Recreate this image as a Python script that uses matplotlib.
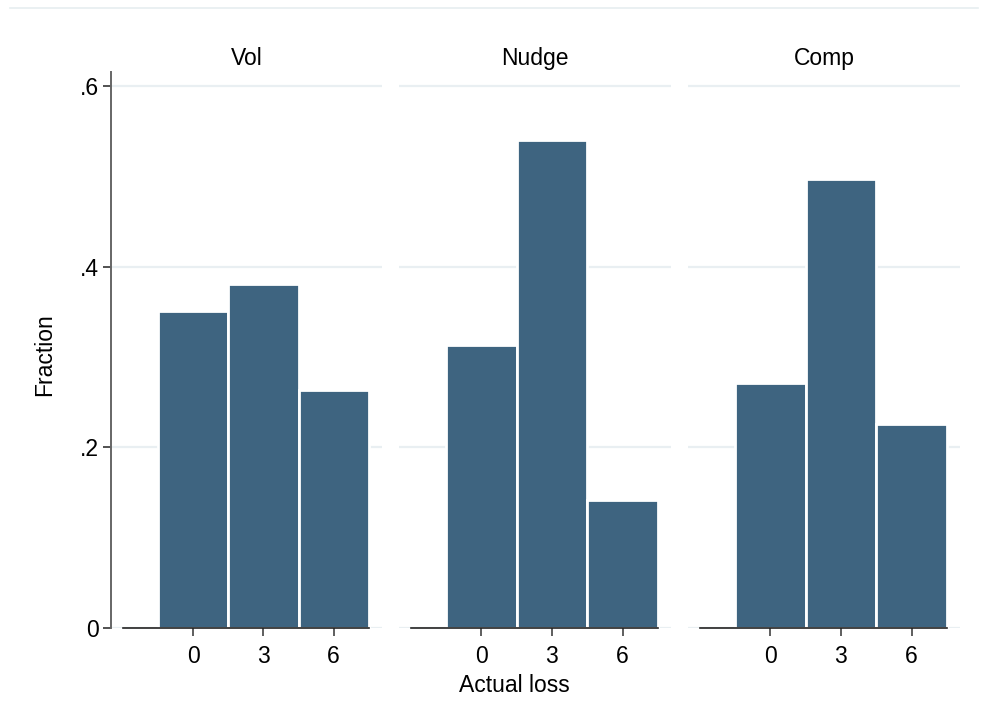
import matplotlib
matplotlib.use('Agg')
import matplotlib.pyplot as plt
from matplotlib.lines import Line2D

plt.rcParams['font.family'] = ['Liberation Sans', 'DejaVu Sans']

# Histogram of actual loss by treatment group (fraction per bin)
groups = ["Vol", "Nudge", "Comp"]
bins = [0, 3, 6]
vol = [0.351, 0.381, 0.264]
nudge = [0.313, 0.541, 0.142]
comp = [0.271, 0.498, 0.226]
fractions = [vol, nudge, comp]
yticks = [0, 0.2, 0.4, 0.6]
ytick_labels = ["0", ".2", ".4", ".6"]

bar_color = "#3e6480"
grid_color = "#e9eff2"
fs = 16.5
W, H = 981, 720

fig = plt.figure(figsize=(W / 100, H / 100), dpi=100)

# panel extents in pixels (left, right)
panels = [(111, 382), (399, 671), (688, 960)]
top_px, bot_px = 72, 628

for i, (name, vals) in enumerate(zip(groups, fractions)):
    l, r = panels[i]
    ax = fig.add_axes([l / W, 1 - bot_px / H, (r - l) / W, (bot_px - top_px) / H])
    ax.set_xlim(-3.5, 8.06)
    ax.set_ylim(0, 0.616)
    ax.set_yticks(yticks)
    for y in yticks:
        ax.axhline(y, color=grid_color, lw=1.6, zorder=0)
    ax.bar(bins, vals, width=3, color=bar_color, edgecolor="white",
           linewidth=2.0, zorder=2)
    for s in ["top", "right"]:
        ax.spines[s].set_visible(False)
    ax.spines["bottom"].set_bounds(-3, 7.5)
    ax.spines["bottom"].set_color("#222222")
    ax.spines["bottom"].set_linewidth(1.2)
    ax.set_xticks(bins)
    ax.set_xticklabels([str(b) for b in bins], fontsize=fs)
    ax.tick_params(axis="x", length=6, width=1.1, color="#333333", pad=6)
    if i == 0:
        ax.spines["left"].set_color("#666666")
        ax.spines["left"].set_linewidth(1.4)
        ax.set_yticklabels(ytick_labels, fontsize=fs)
        ax.tick_params(axis="y", length=6, width=1.1, color="#222222", pad=3)
    else:
        ax.spines["left"].set_visible(False)
        ax.tick_params(axis="y", left=False, labelleft=False)
    ax.set_title(name, fontsize=fs, pad=5)

fig.text(45 / W, 1 - 355 / H, "Fraction", rotation=90, fontsize=fs,
         ha="center", va="center")
fig.text(514 / W, 1 - 686 / H, "Actual loss", fontsize=fs,
         ha="center", va="center")

# thin border line across the top of the graph region
fig.add_artist(Line2D([10 / W, 978 / W], [1 - 8 / H, 1 - 8 / H],
                      color="#e6eef0", lw=1.2, transform=fig.transFigure))

fig.savefig("out.png", dpi=100, facecolor="white")
